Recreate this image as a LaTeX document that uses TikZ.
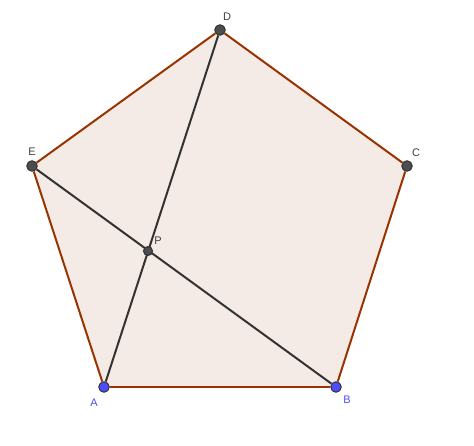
\documentclass[tikz,border=0pt]{standalone}
\usepackage{xcolor}
\usepackage{fontspec}
\setsansfont{Liberation Sans}
\usepackage{tikz}
\usetikzlibrary{positioning}
\pgfdeclarelayer{background}
\pgfsetlayers{background,main}
\definecolor{edgebrown}{HTML}{993300}
\definecolor{facefill}{HTML}{F4EAE6}
\definecolor{ptblue}{HTML}{4D4DFF}
\definecolor{ptgray}{HTML}{4D4D4D}
\definecolor{lblblue}{HTML}{4D4DFF}
\definecolor{lblgray}{HTML}{404040}

\begin{document}
\begin{tikzpicture}[x=1pt,y=-1pt]
						\useasboundingbox (0,0) rectangle (474,445);
						\tikzstyle{vertex}=[circle,draw=black!80,line width=1pt,inner sep=0pt,minimum size=10.5pt]
						\tikzstyle{lbl}=[font=\sffamily\fontsize{11}{12}\selectfont]
						\node[vertex,fill=ptblue](A) at (104,387){};
						\node[vertex,fill=ptblue](B) at (336,387){};
						\node[vertex,fill=ptgray](C) at (407,166){};
						\node[vertex,fill=ptgray](D) at (220,30){};
						\node[vertex,fill=ptgray](E) at (32,166){};
						\node[vertex,fill=ptgray,minimum size=9pt](P) at (148,251){};
						\begin{pgfonlayer}{background}
						\fill[facefill] (A.center) -- (B.center) -- (C.center) -- (D.center) -- (E.center) -- cycle;
						\path[-,draw=edgebrown,line width=2pt]
							(A) edge node {}(B)
							(B) edge node {}(C)
							(C) edge node {}(D)
							(D) edge node {}(E)
							(E) edge node {}(A);
						\path[-,draw=black!80,line width=2pt]
							(A) edge node {}(D)
							(E) edge node {}(B);
						\end{pgfonlayer}
						\node[lbl,text=lblblue] at (94,403) {A};
						\node[lbl,text=lblblue] at (347,400) {B};
						\node[lbl,text=lblgray] at (416,153) {C};
						\node[lbl,text=lblgray] at (227,17) {D};
						\node[lbl,text=lblgray] at (32,152) {E};
						\node[lbl,text=lblgray] at (158,241) {P};
					\end{tikzpicture}
\end{document}
